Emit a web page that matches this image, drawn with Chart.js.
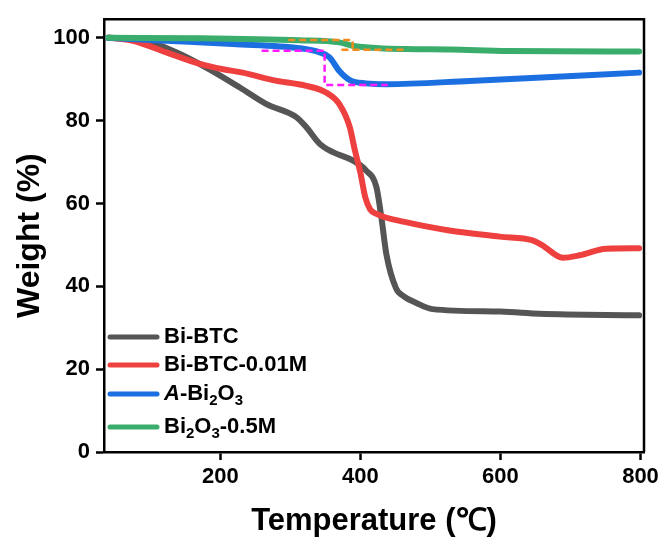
<!DOCTYPE html>
<html>
<head>
<meta charset="utf-8">
<script src="https://cdn.jsdelivr.net/npm/chart.js@4.4.0/dist/chart.umd.min.js"></script>
<style>
  html, body { margin: 0; padding: 0; background: #fff; }
</style>
</head>
<body>
<canvas id="tga" width="666" height="543"></canvas>
<script>
// TGA curves (temperature in C, weight in %)
const biBtcT = [40, 70, 99, 137, 180, 228, 266, 309, 323, 342, 361, 389, 408, 423, 430, 437, 451, 462, 480, 503, 600, 656, 798];
const biBtcW = [100, 99.8, 99.1, 96.5, 92.8, 88.0, 84.0, 80.8, 78.4, 74.4, 72.4, 70.4, 68.0, 63.9, 56.7, 47.9, 39.5, 37.6, 36.0, 34.5, 33.9, 33.4, 33.0];

const biBtc001T = [40, 75, 123, 171, 204, 232, 275, 323, 351, 370, 385, 392, 400, 407, 414, 423, 465, 527, 599, 646, 660, 689, 713, 751, 798];
const biBtc001W = [100, 99.3, 96.5, 93.7, 92.4, 91.6, 89.8, 88.4, 86.8, 84.0, 78.4, 73.0, 67.5, 61.5, 58.6, 57.5, 55.5, 53.5, 52.0, 51.1, 49.9, 46.9, 47.5, 49.1, 49.2];

const aBi2o3T = [40, 123, 218, 313, 342, 356, 370, 385, 408, 437, 556, 798];
const aBi2o3W = [100, 99.3, 98.5, 97.5, 96.5, 95.3, 92.0, 89.8, 89.0, 88.8, 89.6, 91.6];

const bi2o3T = [40, 171, 313, 370, 389, 427, 465, 530, 610, 798];
const bi2o3W = [100, 99.9, 99.4, 98.9, 98.1, 97.5, 97.3, 97.2, 96.8, 96.7];

// dashed guide steps
const magentaT = [259, 349, 349, 439];
const magentaW = [96.9, 96.9, 88.6, 88.6];
const orangeTopT = [297, 389, 389];
const orangeTopW = [99.5, 99.5, 97.1];
const orangeLowT = [373, 464];
const orangeLowW = [97.1, 97.1];

const xTicks = [200, 400, 600, 800];
const yTicks = [0, 20, 40, 60, 80, 100];

// legend labels, split so subscripts / italics can be drawn
const legendRows = [
  { color: '#555555', parts: [{ t: 'Bi-BTC' }] },
  { color: '#ef4040', parts: [{ t: 'Bi-BTC-0.01M' }] },
  { color: '#1c6fe0', parts: [{ t: 'A', it: true }, { t: '-Bi' }, { t: '2', sub: true }, { t: 'O' }, { t: '3', sub: true }] },
  { color: '#3aad6c', parts: [{ t: 'Bi' }, { t: '2', sub: true }, { t: 'O' }, { t: '3', sub: true }, { t: '-0.5M' }] }
];

const FONT = "'Liberation Sans', Arial, sans-serif";

function pts(xs, ys) {
  return xs.map((x, i) => ({ x: x, y: ys[i] }));
}

function curve(label, xs, ys, color, order) {
  return {
    label: label,
    data: pts(xs, ys),
    borderColor: color,
    borderWidth: 6,
    borderCapStyle: 'round',
    borderJoinStyle: 'round',
    pointRadius: 0,
    cubicInterpolationMode: 'monotone',
    order: order
  };
}

function dashed(xs, ys, color) {
  return {
    label: '',
    data: pts(xs, ys),
    borderColor: color,
    borderWidth: 2.5,
    borderDash: [7, 4],
    pointRadius: 0,
    tension: 0,
    order: 0
  };
}

const framePlugin = {
  id: 'frame',
  afterDraw(chart) {
    const { ctx, chartArea: a } = chart;
    ctx.save();
    ctx.strokeStyle = '#000';
    ctx.lineWidth = 2.5;
    ctx.beginPath();
    ctx.moveTo(a.left, a.top);
    ctx.lineTo(a.right, a.top);
    ctx.lineTo(a.right, a.bottom);
    ctx.stroke();

    // legend
    const rowY = [337, 365, 394, 427];
    legendRows.forEach((row, i) => {
      const y = rowY[i];
      ctx.strokeStyle = row.color;
      ctx.lineWidth = 5;
      ctx.lineCap = 'round';
      ctx.beginPath();
      ctx.moveTo(110, y);
      ctx.lineTo(157, y);
      ctx.stroke();
      let x = 164;
      ctx.fillStyle = '#000';
      ctx.textBaseline = 'middle';
      ctx.textAlign = 'left';
      row.parts.forEach(p => {
        if (p.sub) {
          ctx.font = 'bold 15px ' + FONT;
          ctx.fillText(p.t, x, y + 7);
        } else {
          ctx.font = (p.it ? 'italic ' : '') + 'bold 22px ' + FONT;
          ctx.fillText(p.t, x, y);
        }
        x += ctx.measureText(p.t).width;
      });
    });
    ctx.restore();
  }
};

new Chart(document.getElementById('tga').getContext('2d'), {
  type: 'line',
  data: {
    datasets: [
      dashed(magentaT, magentaW, '#ff1aff'),
      dashed(orangeTopT, orangeTopW, '#f28a1e'),
      dashed(orangeLowT, orangeLowW, '#f28a1e'),
      curve('Bi2O3-0.5M', bi2o3T, bi2o3W, '#3aad6c', 1),
      curve('A-Bi2O3', aBi2o3T, aBi2o3W, '#1c6fe0', 2),
      curve('Bi-BTC-0.01M', biBtc001T, biBtc001W, '#ef4040', 3),
      curve('Bi-BTC', biBtcT, biBtcW, '#555555', 4)
    ]
  },
  options: {
    responsive: false,
    animation: false,
    devicePixelRatio: 1,
    layout: { padding: { top: 19, right: 22, left: 0, bottom: 0 } },
    plugins: {
      legend: { display: false },
      tooltip: { enabled: false }
    },
    scales: {
      x: {
        type: 'linear',
        min: 34,
        max: 805,
        afterBuildTicks: s => { s.ticks = xTicks.map(v => ({ value: v })); },
        afterFit: s => { s.height = 91; },
        border: { display: true, color: '#000', width: 2.5 },
        grid: { drawOnChartArea: false, drawTicks: true, tickLength: 8, tickColor: '#000', tickWidth: 2.5 },
        ticks: { color: '#000', padding: 4, autoSkip: false, maxRotation: 0, font: { family: FONT, size: 22, weight: 'bold' } },
        title: {
          display: true,
          text: 'Temperature (℃)',
          color: '#000',
          padding: { top: 0, bottom: 3 },
          font: { family: FONT, size: 31, weight: 'bold' }
        }
      },
      y: {
        min: 0,
        max: 104.5,
        afterBuildTicks: s => { s.ticks = yTicks.map(v => ({ value: v })); },
        afterFit: s => { s.width = 104; },
        border: { display: true, color: '#000', width: 2.5 },
        grid: { drawOnChartArea: false, drawTicks: true, tickLength: 8, tickColor: '#000', tickWidth: 2.5 },
        ticks: { color: '#000', padding: 6, font: { family: FONT, size: 22, weight: 'bold' } },
        title: {
          display: true,
          text: 'Weight (%)',
          color: '#000',
          padding: { top: 11, bottom: 0 },
          font: { family: FONT, size: 32, weight: 'bold' }
        }
      }
    }
  },
  plugins: [framePlugin]
});
</script>
</body>
</html>
